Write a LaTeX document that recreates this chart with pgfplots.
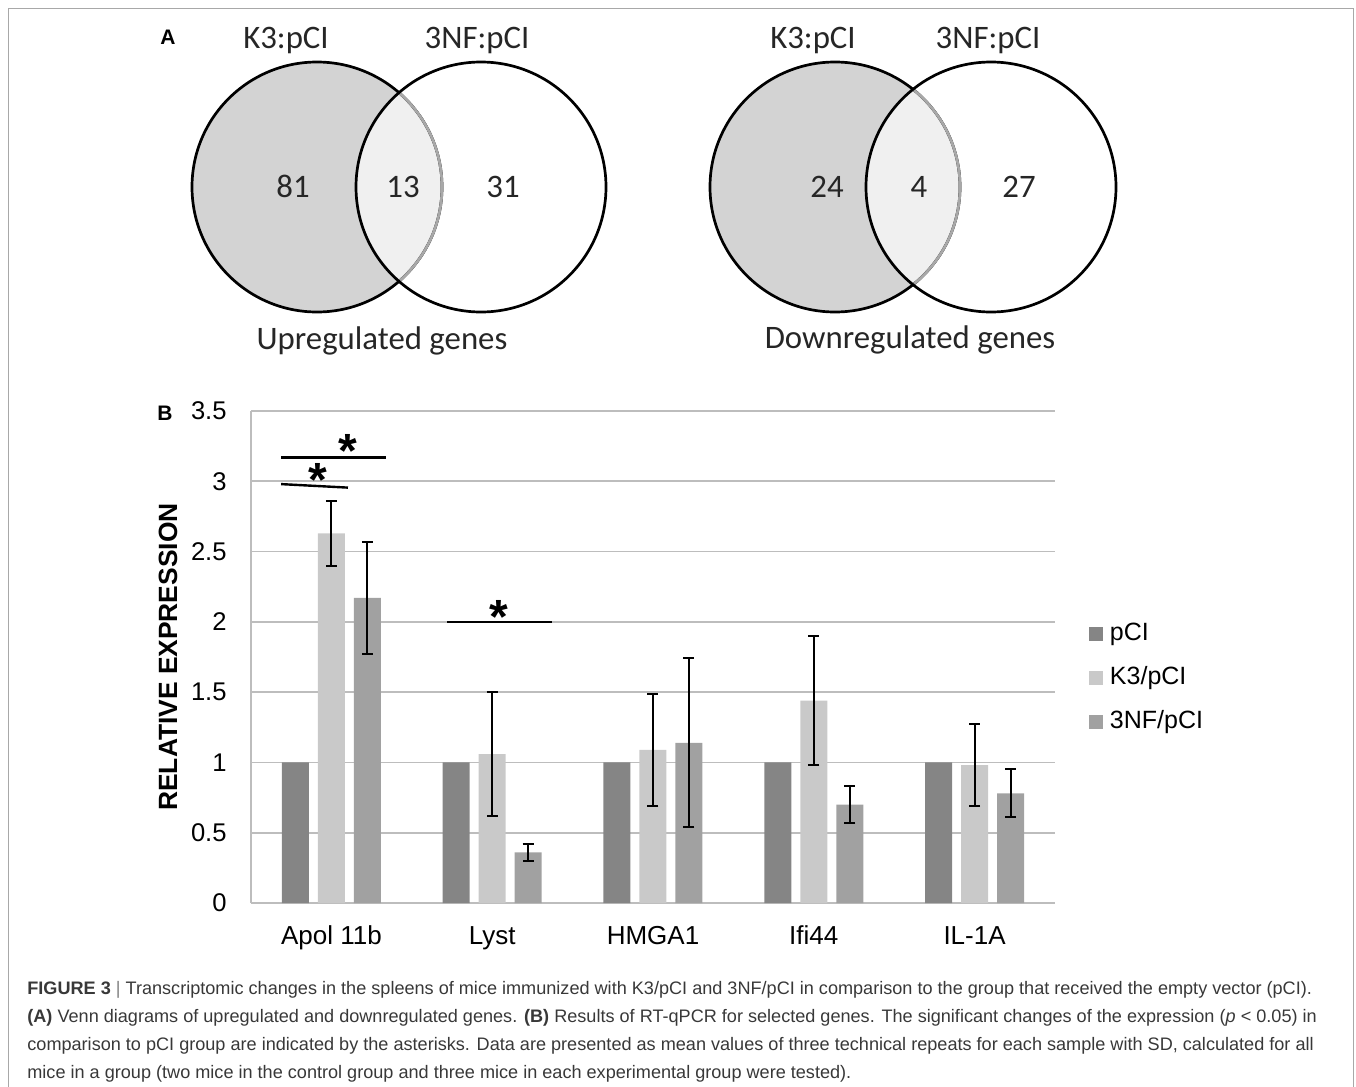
\documentclass[border=0pt]{standalone}
\usepackage{fontspec}
\setmainfont{Liberation Sans}
\newfontfamily\vennfont{Carlito}
\usepackage{pgfplots}
\pgfplotsset{compat=1.18}
\usepackage{pgfplotstable}

\definecolor{cPCI}{HTML}{858585}
\definecolor{cK3}{HTML}{C9C9C9}
\definecolor{cNF}{HTML}{A1A1A1}
\definecolor{gridc}{HTML}{BDBDBD}
\definecolor{vennA}{HTML}{D3D3D3}
\definecolor{vennI}{HTML}{F0F0F0}
\definecolor{vennArc}{HTML}{A8A8A8}
\definecolor{framec}{HTML}{A8A8A8}

% relative expression, one table per group
\pgfplotstableread{
x y
0 1
1 1
2 1
3 1
4 1
}\pci
\pgfplotstableread{
x y    ep   em
0 2.63 0.23 0.23
1 1.06 0.44 0.44
2 1.09 0.40 0.40
3 1.44 0.46 0.46
4 0.98 0.29 0.29
}\kthree
\pgfplotstableread{
x y    ep   em
0 2.17 0.40 0.40
1 0.36 0.06 0.06
2 1.14 0.60 0.60
3 0.70 0.13 0.13
4 0.78 0.17 0.17
}\threenf

% two overlapping circles, centres x1 and x2 (pixel units)
\newcommand\vennshapes[2]{%
  \fill[vennA] (#1,187) circle[radius=62.5pt];
  \begin{scope}
    \clip (#2,187) circle[radius=62.5pt];
    \fill[vennI] (#1,187) circle[radius=62.5pt];
  \end{scope}
  \draw[line width=1.35pt] (#1,187) circle[radius=62.5pt];
  \begin{scope}
    \clip (#2,187) circle[radius=62.5pt];
    \draw[vennArc, line width=1.35pt] (#1,187) circle[radius=62.5pt];
  \end{scope}
  \draw[line width=1.35pt] (#2,187) circle[radius=62.5pt];
}

\begin{document}
\begin{tikzpicture}
\useasboundingbox (0,0) rectangle (678pt,-543.5pt);
\begin{scope}[x=0.5pt,y=-0.5pt]
  \draw[framec, line width=0.6pt] (8.5,1087) -- (8.5,8.5) -- (1353.5,8.5) -- (1353.5,1087);
  \node[font=\bfseries\fontsize{10.5}{12}\selectfont] at (168,37) {A};
  \node[font=\bfseries\fontsize{10.5}{12}\selectfont] at (165,413) {B};

  \vennshapes{317}{481}
  \vennshapes{835}{991}

  \begin{scope}[every node/.style={font=\vennfont\fontsize{16.4}{18}\selectfont, anchor=base, inner sep=0pt, text=black!85}]
    \node at (286,48) {K3:pCI};
    \node at (477,48) {3NF:pCI};
    \node at (293,197) {81};
    \node at (403,197) {13};
    \node at (503,197) {31};
    \node at (382,349) {Upregulated genes};
    \node at (813,48) {K3:pCI};
    \node at (988,48) {3NF:pCI};
    \node at (827,197) {24};
    \node at (919,197) {4};
    \node at (1019,197) {27};
    \node at (910,348) {Downregulated genes};
  \end{scope}

  \begin{scope}[every node/.style={font=\fontsize{9.05}{10}\selectfont, anchor=base west, inner sep=0pt, text=black!78}]
    \node at (27,994) {\textbf{FIGURE 3} {\color{gray}|} Transcriptomic changes in the spleens of mice immunized with K3/pCI and 3NF/pCI in comparison to the group that received the empty vector (pCI).};
    \node at (27,1022) {\textbf{(A)} Venn diagrams of upregulated and downregulated genes. \textbf{(B)} Results of RT-qPCR for selected genes. The significant changes of the expression (\textit{p} < 0.05) in};
    \node at (27,1050) {comparison to pCI group are indicated by the asterisks. Data are presented as mean values of three technical repeats for each sample with SD, calculated for all};
    \node at (27,1078) {mice in a group (two mice in the control group and three mice in each experimental group were tested).};
  \end{scope}
\end{scope}

\begin{axis}[
  at={(125.5pt,-451.5pt)}, anchor=south west,
  scale only axis, width=402pt, height=246pt,
  xmin=-0.5, xmax=4.5, ymin=0, ymax=3.5,
  clip=false,
  ybar=4.5pt, bar width=13.5pt,
  xtick={0,1,2,3,4},
  xticklabels={Apol 11b, Lyst, HMGA1, Ifi44, IL-1A},
  ytick={0,0.5,1,1.5,2,2.5,3,3.5},
  yticklabels={0,0.5,1,1.5,2,2.5,3,3.5},
  /pgf/number format/assume math mode=true,
  major tick length=0pt,
  tick style={draw=none},
  axis x line*=bottom, axis y line*=left,
  axis line style={-, draw=gridc, line width=0.8pt},
  ymajorgrids, grid style={draw=gridc, line width=0.8pt},
  yticklabel style={font=\fontsize{12.8}{14}\selectfont, anchor=east, inner sep=0pt, xshift=-12pt},
  xticklabel style={font=\fontsize{13}{14}\selectfont, anchor=base, inner sep=0pt, yshift=-20.5pt},
  ylabel={RELATIVE EXPRESSION},
  ylabel style={font=\bfseries\fontsize{13.2}{14}\selectfont, at={(axis description cs:-0.1032,0.5)}, anchor=center},
  legend cell align=left,
  legend style={draw=none, fill=none, at={(1.0423,0.571)}, anchor=north west,
    font=\fontsize{12.5}{14}\selectfont, inner sep=0pt, outer sep=0pt,
    row sep=10.6pt, column sep=3.5pt,
    nodes={inner sep=0pt, text height=9pt, text depth=2.6pt}},
  legend image code/.code={\fill[#1, draw=none] (0pt,-3.5pt) rectangle (7pt,3.5pt);},
  error bars/y dir=both, error bars/y explicit,
  error bars/error bar style={black, line width=1pt},
  error bars/error mark options={rotate=90, black, line width=1pt, mark size=2.75pt},
]
\addplot[fill=cPCI, draw=none, error bars/y dir=none]
  table[x=x, y=y] {\pci};
\addplot[fill=cK3, draw=none]
  table[x=x, y=y, y error plus=ep, y error minus=em] {\kthree};
\addplot[fill=cNF, draw=none]
  table[x=x, y=y, y error plus=ep, y error minus=em] {\threenf};
\legend{pCI, K3/pCI, 3NF/pCI}

% significance bars
\draw[black, line width=1.2pt] (axis cs:-0.313,3.17) -- (axis cs:0.34,3.17);
\draw[black, line width=1.2pt] (axis cs:-0.313,2.98) -- (axis cs:0.103,2.955);
\draw[black, line width=1.2pt] (axis cs:0.719,2.0) -- (axis cs:1.372,2.0);
\node[font=\bfseries\fontsize{24}{24}\selectfont, anchor=base, inner sep=0pt] at (axis cs:0.103,3.10) {*};
\node[font=\bfseries\fontsize{24}{24}\selectfont, anchor=base, inner sep=0pt] at (axis cs:-0.083,2.89) {*};
\node[font=\bfseries\fontsize{24}{24}\selectfont, anchor=base, inner sep=0pt] at (axis cs:1.042,1.92) {*};
\end{axis}
\end{tikzpicture}
\end{document}
